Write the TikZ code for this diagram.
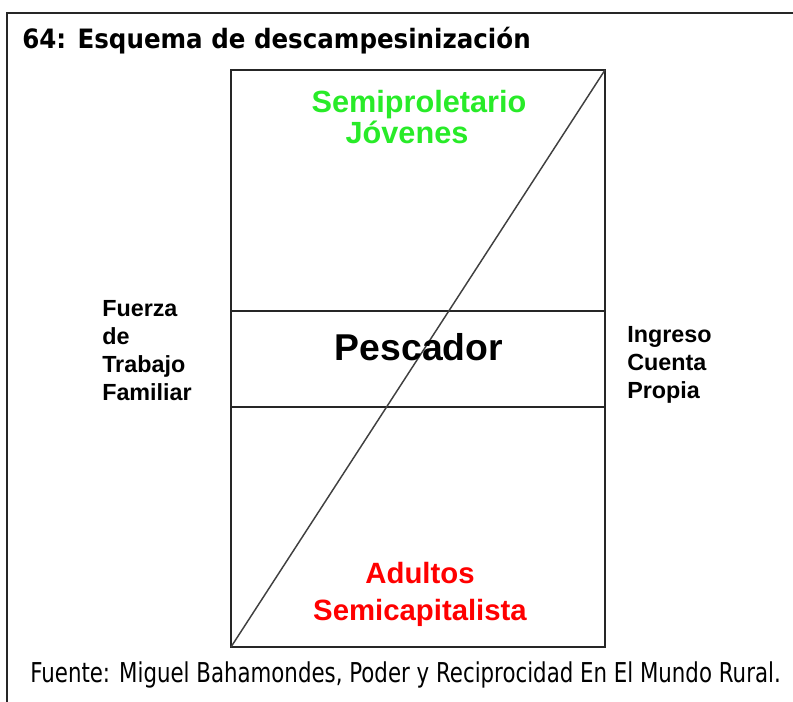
\documentclass[tikz,border=0pt]{standalone}
\usepackage{fontspec}
\setmainfont{Liberation Sans}
\newfontfamily\capfont[FakeStretch=0.78]{DejaVu Sans}
\newfontfamily\headfont[FakeStretch=0.92]{DejaVu Sans}
\usepackage{xcolor}
\usepackage{tikz}
\usetikzlibrary{positioning}

\definecolor{youngcol}{RGB}{40,235,40}
\definecolor{adultcol}{RGB}{255,0,0}

\begin{document}
\begin{tikzpicture}[
  x=0.75pt, y=-0.75pt,
  cell/.style={draw=black!85, line width=1.4pt, minimum width=280.5pt, inner sep=0pt, outer sep=0pt},
  lbl/.style={inner sep=0pt, align=center, font=\bfseries\fontsize{23}{23.25}\selectfont},
  side/.style={inner sep=0pt, align=left, anchor=north west, font=\bfseries\fontsize{17.5}{21}\selectfont},
  diag/.style={draw=black!75, line width=1.1pt},
  frame/.style={draw=black!85, line width=1.5pt}
]
\useasboundingbox (0,0) rectangle (793,702);
\draw[frame] (793,13) -- (7,13) -- (7,702);

% the three bands of the scheme
\node[cell, minimum height=180.75pt] (upper) at (418,190.5) {};
\node[cell, minimum height=72pt, below=0pt of upper] (middle) {};
\node[cell, minimum height=180pt, below=0pt of middle] (lower) {};
\draw[diag] (lower.south west) -- (upper.north east);

\node[lbl, text=youngcol, anchor=north] (young) at (419,90) {Semiproletario\\Jóvenes\hspace*{18pt}};
\node[inner sep=0pt, anchor=base, font=\bfseries\fontsize{28}{30}\selectfont] (fisher) at (419,361) {Pescador};
\node[lbl, text=adultcol, anchor=north, font=\bfseries\fontsize{22}{27.75}\selectfont] (adult) at (420,561.6) {Adultos\\Semicapitalista};

\node[side] (labour) at (102,300) {Fuerza\\de\\Trabajo\\Familiar};
\node[side] (income) at (627,326.5) {Ingreso\\Cuenta\\Propia};

\node[inner sep=0pt, anchor=base west, font=\headfont\bfseries\fontsize{20}{24}\selectfont] (title) at (22,49) {64: Esquema de descampesinización};
\node[inner sep=0pt, anchor=base west, font=\capfont\fontsize{20.5}{24}\selectfont] (source) at (30,682) {Fuente: Miguel Bahamondes, Poder y Reciprocidad En El Mundo Rural.};
\end{tikzpicture}
\end{document}
